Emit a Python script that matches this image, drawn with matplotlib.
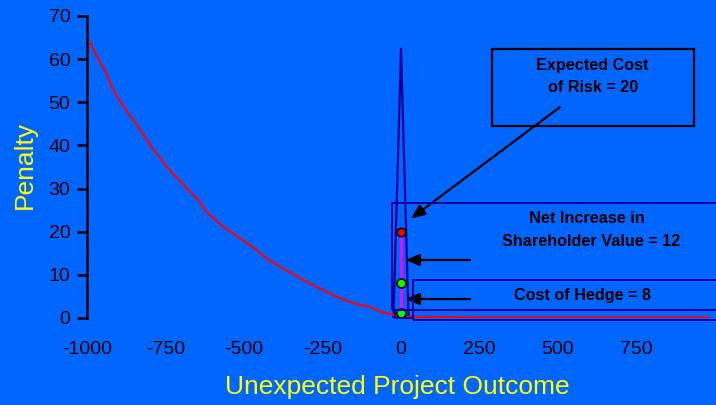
import matplotlib
matplotlib.use("Agg")
import matplotlib.pyplot as plt
from matplotlib.patches import Rectangle

# ---- data -------------------------------------------------------------
outcome = [-992, -962, -941, -922, -898, -845, -791, -737, -712, -683, -641,
           -620, -567, -535, -460, -428, -386, -301, -195, -141, -99, -67,
           -35, -19, 0, 250, 500, 750, 979]
penalty = [64.0, 59.8, 57.1, 53.6, 50.5, 45.1, 39.3, 34.3, 32.4, 30.1, 27.0,
           24.6, 21.2, 19.6, 15.8, 13.8, 11.9, 8.4, 4.6, 3.2, 2.6, 1.5,
           0.9, 0.7, 0.3, 0.15, 0.15, 0.15, 0.15]

spike_x = [-24, 0, 24]
spike_y = [0, 62.4, 0]

expected_cost_of_risk = 20
cost_of_hedge = 8
residual_penalty = 1.1
net_increase = expected_cost_of_risk - cost_of_hedge

x_ticks = [-1000, -750, -500, -250, 0, 250, 500, 750]
y_ticks = [0, 10, 20, 30, 40, 50, 60, 70]

# ---- styling ----------------------------------------------------------
BG = "#0066FF"
NAVY = "#000099"
plt.rcParams["font.family"] = ["Liberation Sans", "DejaVu Sans"]
plt.rcParams["axes.unicode_minus"] = False

W, H = 716, 405
fig = plt.figure(figsize=(W / 100, H / 100), dpi=100, facecolor=BG)


def fx(px):
    return px / W


def fy(py):
    return 1 - py / H


ax = fig.add_axes([fx(87), fy(318), fx(715) - fx(87), (318 - 16) / H])
ax.set_facecolor(BG)
ax.set_xlim(-1000, 1000)
ax.set_ylim(0, 70)

for s in ("top", "right", "bottom"):
    ax.spines[s].set_visible(False)
ax.spines["left"].set_linewidth(1.8)
ax.spines["left"].set_color("black")

ax.set_xticks(x_ticks)
ax.set_yticks(y_ticks)
ax.tick_params(axis="x", length=0, pad=16.5, labelsize=14, colors="black")
ax.tick_params(axis="y", length=7, width=1.8, pad=5, labelsize=14,
               colors="black", direction="out")

# penalty curve and the hedged distribution spike
ax.plot(outcome, penalty, color="#FF0000", lw=1.5, zorder=3)
ax.plot(spike_x, spike_y, color=NAVY, lw=1.6, zorder=2)

# cost breakdown at zero outcome
ax.plot([0, 0], [residual_penalty, expected_cost_of_risk], color="#FF00FF",
        lw=2, zorder=4)
ax.plot([0], [expected_cost_of_risk], "o", ms=6, mfc="#FF0000", mec="black",
        mew=1.2, zorder=5)
ax.plot([0], [cost_of_hedge], "o", ms=6.5, mfc="#00FF00", mec="black",
        mew=1.2, zorder=5)
ax.plot([0], [residual_penalty], "o", ms=6.5, mfc="#00FF00", mec="black",
        mew=1.2, zorder=5)

# axis titles
fig.text(fx(397.5), fy(394), "Unexpected Project Outcome", color="#FFFF00",
         fontsize=19, ha="center", va="baseline")
fig.text(fx(25), fy(165), "Penalty", color="#FFFF00", fontsize=19,
         rotation=90, ha="center", va="center")

# call-out boxes
def box(x0, y0, x1, y1, color, lw):
    fig.add_artist(Rectangle((fx(x0), fy(y1)), fx(x1) - fx(x0),
                             fy(y0) - fy(y1), transform=fig.transFigure,
                             fill=False, edgecolor=color, lw=lw,
                             clip_on=False, zorder=6))


box(492, 49, 694, 126, "black", 1.6)
box(391.7, 203.3, 730, 309.5, NAVY, 1.4)
box(413, 279.5, 730, 320, NAVY, 1.4)
box(395, 309.5, 413, 317.5, NAVY, 1.2)

txt = dict(fontsize=11.7, fontweight="bold", color="black", ha="center",
           va="baseline")
fig.text(fx(592.5), fy(70), "Expected Cost", **txt)
fig.text(fx(593), fy(91.7), f"of Risk = {expected_cost_of_risk}", **txt)
fig.text(fx(587), fy(223.3), "Net Increase in", **txt)
fig.text(fx(591.5), fy(245.7), f"Shareholder Value = {net_increase}", **txt)
fig.text(fx(582.3), fy(300), f"Cost of Hedge = {cost_of_hedge}", **txt)

# arrows
arrow = dict(arrowstyle="-|>,head_length=0.7,head_width=0.3", color="black",
             lw=1.6, shrinkA=0, shrinkB=0, mutation_scale=12)


def arrow_px(x0, y0, x1, y1):
    ax.annotate("", xy=(x1, H - y1), xytext=(x0, H - y0),
                xycoords="figure pixels", textcoords="figure pixels",
                arrowprops=arrow, zorder=7, annotation_clip=False)


arrow_px(560, 107, 411, 218.5)
arrow_px(470, 260, 405.5, 260)
arrow_px(470, 299, 405.5, 299)

fig.savefig("out.png", dpi=100, facecolor=BG)
